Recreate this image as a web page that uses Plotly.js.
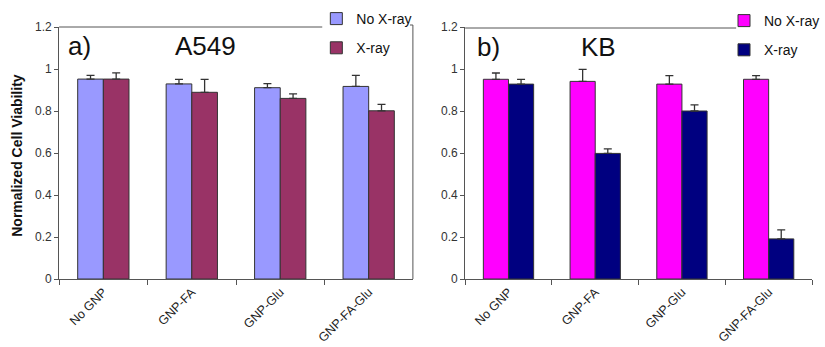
<!DOCTYPE html>
<html><head><meta charset="utf-8">
<script src="https://cdn.plot.ly/plotly-3.0.1.min.js"></script>
<style>html,body{margin:0;padding:0;background:#fff;}#chart{width:825px;height:347px;}</style>
</head><body><div id="chart"></div>
<script>
const categories = ["No GNP", "GNP-FA", "GNP-Glu", "GNP-FA-Glu"];
const seriesNames = ["No X-ray", "X-ray"];
// Panel a) A549
const a549NoXray = [0.952, 0.929, 0.911, 0.917];
const a549NoXrayErr = [0.018, 0.022, 0.019, 0.053];
const a549Xray = [0.952, 0.889, 0.860, 0.801];
const a549XrayErr = [0.030, 0.062, 0.022, 0.031];
// Panel b) KB
const kbNoXray = [0.951, 0.941, 0.928, 0.951];
const kbNoXrayErr = [0.030, 0.057, 0.040, 0.017];
const kbXray = [0.928, 0.598, 0.800, 0.191];
const kbXrayErr = [0.023, 0.022, 0.029, 0.043];
const yTicks = [0, 0.2, 0.4, 0.6, 0.8, 1, 1.2];

const W = 825, H = 347;
const px = v => v / W, py = v => 1 - v / H;

function bar(name, vals, errs, color, xa, ya, legend, group) {
  return {
    type: 'bar', name: name, x: categories, y: vals, xaxis: xa, yaxis: ya,
    legend: legend, legendgroup: group,
    marker: {color: color, line: {color: '#333', width: 1}},
    error_y: {type: 'data', symmetric: false, array: errs, arrayminus: errs.map(() => 0),
              color: '#333', thickness: 1.3, width: 4}
  };
}

const data = [
  bar(seriesNames[0], a549NoXray, a549NoXrayErr, '#9999FF', 'x', 'y', 'legend', 'a1'),
  bar(seriesNames[1], a549Xray, a549XrayErr, '#993366', 'x', 'y', 'legend', 'a2'),
  bar(seriesNames[0], kbNoXray, kbNoXrayErr, '#FF00FF', 'x2', 'y2', 'legend2', 'b1'),
  bar(seriesNames[1], kbXray, kbXrayErr, '#000080', 'x2', 'y2', 'legend2', 'b2')
];

const font = {family: 'Liberation Sans, Arial, sans-serif', color: '#222'};
const xCommon = {
  type: 'category', tickson: 'boundaries', ticks: 'outside', ticklen: 5, tickcolor: '#555',
  showline: true, linecolor: '#555', linewidth: 1, tickangle: -45,
  tickfont: {family: font.family, size: 12.5, color: '#222'}, showgrid: false, zeroline: false,
  fixedrange: true
};
const yCommon = {
  range: [0, 1.2], tickvals: yTicks, ticktext: yTicks.map(String), ticks: 'outside', ticklen: 4,
  tickcolor: '#555', showline: true, linecolor: '#555', linewidth: 1, showgrid: false,
  zeroline: false, tickfont: {family: font.family, size: 12, color: '#333'}, fixedrange: true
};
const yDom = [68 / H, (H - 27) / H];

const legendCommon = {
  xanchor: 'left', yanchor: 'top', bgcolor: 'rgba(0,0,0,0)', traceorder: 'grouped',
  tracegroupgap: 8, font: {family: font.family, size: 14, color: '#111'}, itemwidth: 30
};

const ann = (text, x, y, size, extra) => Object.assign({
  text: text, xref: 'paper', yref: 'paper', x: px(x), y: py(y), xanchor: 'center', yanchor: 'middle',
  showarrow: false, font: {family: font.family, size: size, color: '#111'}
}, extra || {});

const layout = {
  width: W, height: H, margin: {l: 0, r: 0, t: 0, b: 0},
  paper_bgcolor: '#fff', plot_bgcolor: '#fff', font: font,
  barmode: 'group', bargap: 0.42, bargroupgap: 0,
  showlegend: true,
  xaxis: Object.assign({}, xCommon, {domain: [60 / W, 419 / W], anchor: 'y'}),
  yaxis: Object.assign({}, yCommon, {domain: yDom, anchor: 'x'}),
  xaxis2: Object.assign({}, xCommon, {domain: [472 / W, 824 / W], anchor: 'y2'}),
  yaxis2: Object.assign({}, yCommon, {domain: yDom, anchor: 'x2'}),
  legend: Object.assign({}, legendCommon, {x: px(321), y: py(3)}),
  legend2: Object.assign({}, legendCommon, {x: px(735), y: py(5)}),
  shapes: [
    {type: 'line', xref: 'paper', yref: 'paper', x0: px(60), x1: px(327), y0: py(27), y1: py(27),
     line: {color: '#555', width: 1}},
    {type: 'line', xref: 'paper', yref: 'paper', x0: px(419), x1: px(419), y0: py(25), y1: py(279),
     line: {color: '#555', width: 1}},
    {type: 'line', xref: 'paper', yref: 'paper', x0: px(416), x1: px(419), y0: py(25), y1: py(25),
     line: {color: '#555', width: 1}},
    {type: 'line', xref: 'paper', yref: 'paper', x0: px(472), x1: px(747), y0: py(28), y1: py(28),
     line: {color: '#555', width: 1}}
  ],
  annotations: [
    ann('<b>Normalized Cell Viability</b>', 17, 155, 14, {textangle: -90}),
    ann('a)', 81, 46, 26),
    ann('A549', 209, 46, 26),
    ann('b)', 496, 47, 26),
    ann('KB', 607, 47, 26)
  ]
};

Plotly.newPlot('chart', data, layout, {displayModeBar: false, staticPlot: true});
</script></body></html>
